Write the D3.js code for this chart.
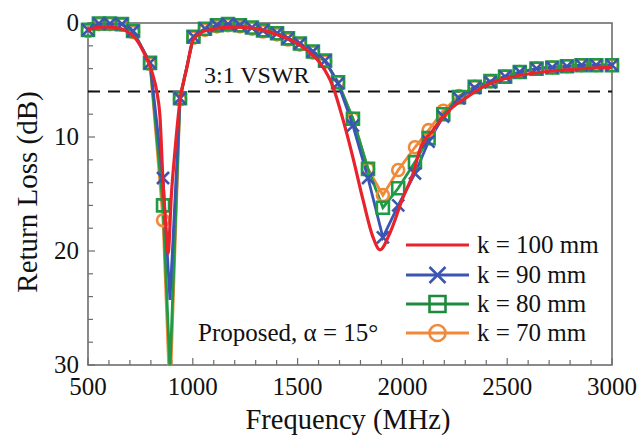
<!DOCTYPE html>
<html><head><meta charset="utf-8">
<script src="https://cdn.jsdelivr.net/npm/d3@7"></script>
<style>body{margin:0;background:#fff}svg{display:block}</style>
</head><body><div id="chart"></div>
<script>
// ---- data ----
const xTicks = [500, 1000, 1500, 2000, 2500, 3000];
const yTicks = [0, 10, 20, 30];
const vswrLevel = 6;

// k = 100 mm (solid red curve)
const redFreq = [500, 540, 581, 630, 677, 724, 772, 805, 829, 843, 858, 872, 882, 898, 915, 939, 972, 1001, 1068, 1192, 1300, 1400, 1480, 1545, 1607, 1669, 1717, 1764, 1812, 1860, 1893, 1941, 2003, 2051, 2084, 2146, 2227, 2308, 2385, 2466, 2625, 2785, 3000];
const redVal  = [0.6, 0.4, 0.35, 0.4, 0.65, 1.3, 2.8, 4.3, 6.1, 8.1, 14, 18, 20.2, 15, 11.2, 6.8, 3.9, 1.5, 0.64, 0.37, 0.5, 1.0, 1.6, 2.4, 3.5, 5.6, 8.5, 11.8, 15.5, 18.8, 19.9, 18.4, 15.3, 13.2, 11.1, 9.4, 7.6, 6.5, 5.6, 5.0, 4.4, 4.1, 3.9];

// marker series frequencies
const mkFreq = [500, 552, 605, 662, 715, 796, 858, 891, 939, 1003, 1058, 1115, 1168, 1225, 1282, 1335, 1402, 1454, 1511, 1573, 1631, 1693, 1764, 1836, 1907, 1980, 2060, 2125, 2195, 2270, 2345, 2420, 2490, 2560, 2640, 2715, 2785, 2855, 2925, 3000];
const blueVal   = [0.6, 0.05, 0.05, 0.1, 0.7, 3.5, 13.6, 24.3, 6.6, 1.2, 0.5, 0.2, 0.1, 0.2, 0.4, 0.65, 0.9, 1.35, 1.8, 2.5, 3.3, 5.3, 9.0, 13.6, 18.8, 16.0, 13.2, 10.4, 8.2, 6.6, 5.7, 5.2, 4.7, 4.3, 4.0, 3.9, 3.8, 3.7, 3.7, 3.7];
const greenVal  = [0.6, 0.05, 0.05, 0.1, 0.7, 3.5, 16.0, 30.5, 6.6, 1.2, 0.5, 0.2, 0.1, 0.2, 0.4, 0.65, 0.9, 1.35, 1.8, 2.5, 3.3, 5.2, 8.4, 12.8, 16.2, 14.5, 12.2, 10.1, 8.0, 6.5, 5.6, 5.1, 4.7, 4.3, 4.0, 3.9, 3.8, 3.7, 3.7, 3.7];
const orangeVal = [0.7, 0.1, 0.1, 0.15, 0.8, 3.6, 17.3, 33.0, 6.7, 1.3, 0.6, 0.3, 0.2, 0.3, 0.5, 0.75, 1.0, 1.45, 1.9, 2.6, 3.4, 5.2, 8.4, 12.8, 15.1, 12.9, 10.9, 9.4, 7.7, 6.4, 5.6, 5.1, 4.7, 4.3, 4.0, 3.9, 3.8, 3.7, 3.7, 3.7];
const dipFreq = 891; // sharp-null sample drawn as line only

const legendLabels = ["k = 100 mm", "k = 90 mm", "k = 80 mm", "k = 70 mm"];

// ---- layout ----
const W = 640, H = 435;
const FONT = "'Liberation Serif', 'Times New Roman', Times, serif";
const m = {l: 88, r: 612, t: 23, b: 365};
const x = d3.scaleLinear().domain([500, 3000]).range([m.l, m.r]);
const y = d3.scaleLinear().domain([0, 30]).range([m.t, m.b]);

const svg = d3.select("#chart").append("svg").attr("width", W).attr("height", H)
  .attr("font-family", FONT).style("font-family", FONT);

svg.append("defs").append("clipPath").attr("id", "clip")
  .append("rect").attr("x", m.l).attr("y", m.t).attr("width", m.r - m.l).attr("height", m.b - m.t);

function txt(xp, yp, size, s, anchor) {
  return svg.append("text").attr("x", xp).attr("y", yp).attr("font-size", size)
    .attr("font-family", FONT).style("font-family", FONT).attr("fill", "#111")
    .attr("text-anchor", anchor || "start").text(s);
}

// minor ticks (inward)
const axisCol = "#6d6d6d";
const g = svg.append("g");
d3.range(500, 3001, 100).forEach(v => {
  const big = v % 500 === 0;
  g.append("line").attr("x1", x(v)).attr("x2", x(v)).attr("y1", m.b).attr("y2", m.b - (big ? 7 : 5)).attr("stroke", axisCol).attr("stroke-width", 1.2);
});
d3.range(0, 31, 2).forEach(v => {
  g.append("line").attr("x1", m.l).attr("x2", m.l + (v % 10 === 0 ? 7 : 5)).attr("y1", y(v)).attr("y2", y(v)).attr("stroke", axisCol).attr("stroke-width", 1.2);
});

// frame
svg.append("rect").attr("x", m.l).attr("y", m.t).attr("width", m.r - m.l).attr("height", m.b - m.t)
  .attr("fill", "none").attr("stroke", axisCol).attr("stroke-width", 1.6);

// tick labels
xTicks.forEach(d => txt(x(d), 395, 25, d, "middle"));
yTicks.forEach(d => txt(79, y(d) + 8, 25, d, "end"));

// axis titles
txt(x(1750) - 2, 429, 28.5, "Frequency (MHz)", "middle");
txt(0, 0, 29, "Return Loss (dB)", "middle").attr("transform", "translate(37,192) rotate(-90)");

// VSWR line
svg.append("line").attr("x1", m.l).attr("x2", m.r).attr("y1", y(vswrLevel)).attr("y2", y(vswrLevel))
  .attr("stroke", "#111").attr("stroke-width", 2).attr("stroke-dasharray", "12,8");
txt(204, 83, 24, "3:1 VSWR");

// series
const cols = {red: "#e8232b", blue: "#3b56b2", green: "#1f9a45", orange: "#f08a3a"};
const line = d3.line().x(d => x(d[0])).y(d => y(d[1]));
const plot = svg.append("g").attr("clip-path", "url(#clip)");
const marks = svg.append("g");

function symbolPath(type, s) {
  if (type === "x") return `M${-s},${-s}L${s},${s}M${-s},${s}L${s},${-s}`;
  if (type === "sq") return `M${-s},${-s}H${s}V${s}H${-s}Z`;
  return `M${s},0A${s},${s} 0 1,1 ${-s},0A${s},${s} 0 1,1 ${s},0`;
}
function drawMarkerSeries(vals, col, type) {
  const pts = mkFreq.map((f, i) => [f, vals[i]]);
  plot.append("path").datum(pts).attr("d", line).attr("fill", "none").attr("stroke", col).attr("stroke-width", 2.8);
  marks.selectAll(null).data(pts.filter(p => p[0] !== dipFreq)).enter().append("path")
    .attr("transform", d => `translate(${x(d[0])},${y(d[1])})`)
    .attr("d", symbolPath(type, 6))
    .attr("fill", "none").attr("stroke", col).attr("stroke-width", 2.6);
}
drawMarkerSeries(orangeVal, cols.orange, "circle");
drawMarkerSeries(greenVal, cols.green, "sq");
drawMarkerSeries(blueVal, cols.blue, "x");

const redPts = redFreq.map((f, i) => [f, redVal[i]]);
svg.append("path").attr("clip-path", "url(#clip)").datum(redPts)
  .attr("d", d3.line().x(d => x(d[0])).y(d => y(d[1])).curve(d3.curveMonotoneX))
  .attr("fill", "none").attr("stroke", cols.red).attr("stroke-width", 3.2);

// legend
const legCols = [cols.red, cols.blue, "#1f8a3e", cols.orange];
const legTypes = [null, "x", "sq", "circle"];
const legY = [245, 275, 304, 333];
legendLabels.forEach((lab, i) => {
  const cy = legY[i];
  svg.append("line").attr("x1", 406).attr("x2", 469).attr("y1", cy).attr("y2", cy).attr("stroke", legCols[i]).attr("stroke-width", 3);
  if (legTypes[i]) {
    svg.append("path").attr("transform", `translate(437.5,${cy})`).attr("d", symbolPath(legTypes[i], 8))
      .attr("fill", "none").attr("stroke", legCols[i]).attr("stroke-width", 2.6);
  }
  txt(477, cy + 8, 25, lab);
});

txt(198, 341, 25, "Proposed, α = 15°");
</script></body></html>
